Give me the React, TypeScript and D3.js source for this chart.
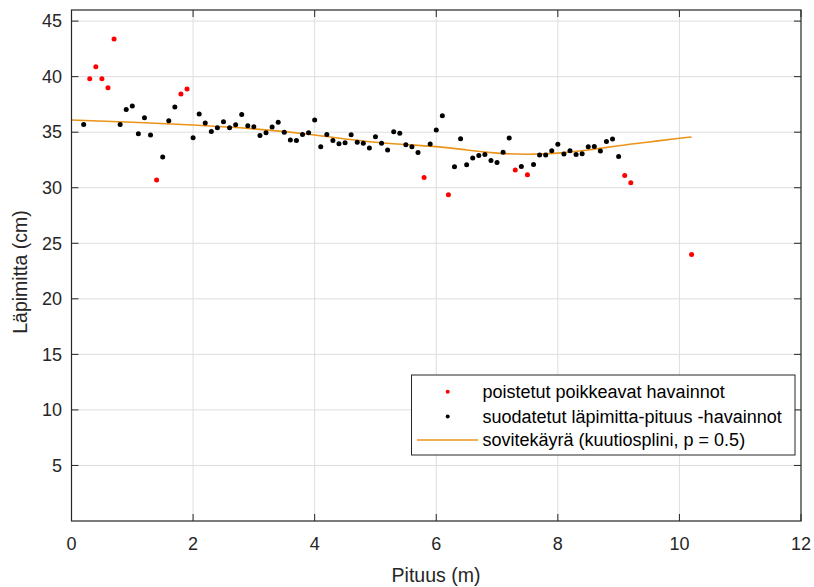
import React from 'react';
import * as d3 from 'd3';

// suodatetut havainnot (m, cm)
const keptX = [0.2, 0.8, 0.9, 1.0, 1.1, 1.2, 1.3, 1.5, 1.6, 1.7, 2.0, 2.1, 2.2, 2.3, 2.4, 2.5, 2.6, 2.7, 2.8, 2.9,
  3.0, 3.1, 3.2, 3.3, 3.4, 3.5, 3.6, 3.7, 3.8, 3.9, 4.0, 4.1, 4.2, 4.3, 4.4, 4.5, 4.6, 4.7, 4.8, 4.9,
  5.0, 5.1, 5.2, 5.3, 5.4, 5.5, 5.6, 5.7, 5.9, 6.0, 6.1, 6.3, 6.4, 6.5, 6.6, 6.7, 6.8, 6.9,
  7.0, 7.1, 7.2, 7.4, 7.6, 7.7, 7.8, 7.9, 8.0, 8.1, 8.2, 8.3, 8.4, 8.5, 8.6, 8.7, 8.8, 8.9, 9.0];
const keptY = [35.7, 35.7, 37.05, 37.35, 34.86, 36.3, 34.74, 32.76, 36.03, 37.26, 34.5, 36.63, 35.83, 35.07, 35.4, 35.94, 35.4, 35.68, 36.6, 35.58,
  35.5, 34.7, 34.95, 35.46, 35.9, 35.0, 34.3, 34.26, 34.8, 34.95, 36.1, 33.7, 34.8, 34.26, 33.97, 34.05, 34.77, 34.1, 34.0, 33.57,
  34.6, 34.0, 33.4, 35.04, 34.9, 33.87, 33.7, 33.18, 33.93, 35.19, 36.48, 31.88, 34.42, 32.08, 32.67, 32.9, 33.0, 32.46,
  32.28, 33.2, 34.47, 31.92, 32.1, 32.94, 32.94, 33.33, 33.92, 33.03, 33.33, 33.0, 33.06, 33.7, 33.72, 33.3, 34.17, 34.38, 32.82];

// poistetut poikkeavat havainnot
const outX = [0.3, 0.4, 0.5, 0.6, 0.7, 1.4, 1.8, 1.9, 5.8, 6.2, 7.3, 7.5, 9.1, 9.2, 10.2];
const outY = [39.8, 40.9, 39.8, 39.0, 43.4, 30.7, 38.43, 38.88, 30.93, 29.37, 31.59, 31.17, 31.1, 30.45, 24.0];

// sovitekäyrä
const fitX = [0, 1, 2, 3, 4, 5, 6, 6.5, 7, 7.5, 8, 8.5, 9, 9.5, 10, 10.2];
const fitY = [36.1, 35.9, 35.65, 35.3, 34.75, 34.1, 33.7, 33.4, 33.12, 33.02, 33.12, 33.4, 33.78, 34.12, 34.45, 34.57];

const xTicks = [0, 2, 4, 6, 8, 10, 12];
const yTicks = [5, 10, 15, 20, 25, 30, 35, 40, 45];
const legendLabels = [
  'poistetut poikkeavat havainnot',
  'suodatetut läpimitta-pituus -havainnot',
  'sovitekäyrä (kuutiosplini, p = 0.5)',
];

const W = 814;
const H = 587;
const left = 71.5, right = 801, top = 10, bottom = 521;
const font = '"Liberation Sans", Arial, sans-serif';
const fitColor = '#eb9419';
const axisColor = '#262626';

export default function App() {
  const x = d3.scaleLinear().domain([0, 12]).range([left, right]);
  const y = d3.scaleLinear().domain([0, 46]).range([bottom, top]);
  const line = d3.line<number>()
    .x((d, i) => x(fitX[i]))
    .y((d) => y(d))
    .curve(d3.curveNatural);

  const legendRows = [391.7, 416.5, 440];

  return (
    <svg width={W} height={H} style={{ position: 'absolute', left: 0, top: 0, background: '#fff' }}
      fontFamily={font}>
      <rect x={0} y={0} width={W} height={H} fill="#fff" />
      {/* grid */}
      {xTicks.slice(1, -1).map((t) => (
        <line key={'gx' + t} x1={x(t)} x2={x(t)} y1={top} y2={bottom} stroke="#dedede" strokeWidth={1} />
      ))}
      {yTicks.map((t) => (
        <line key={'gy' + t} x1={left} x2={right} y1={y(t)} y2={y(t)} stroke="#dedede" strokeWidth={1} />
      ))}

      {/* fit */}
      <path d={line(fitY) || ''} fill="none" stroke={fitColor} strokeWidth={1.6} />

      {/* points */}
      {keptX.map((v, i) => (
        <circle key={'k' + i} cx={x(v)} cy={y(keptY[i])} r={2.5} fill="#000" />
      ))}
      {outX.map((v, i) => (
        <circle key={'o' + i} cx={x(v)} cy={y(outY[i])} r={2.5} fill="#ff0000" />
      ))}

      {/* box + ticks */}
      <rect x={left} y={top} width={right - left} height={bottom - top} fill="none" stroke={axisColor} strokeWidth={1.2} />
      {xTicks.map((t) => (
        <g key={'tx' + t}>
          <line x1={x(t)} x2={x(t)} y1={bottom} y2={bottom - 7} stroke={axisColor} />
          <line x1={x(t)} x2={x(t)} y1={top} y2={top + 7} stroke={axisColor} />
          <text x={x(t)} y={549.5} textAnchor="middle" fontSize={18} fill={axisColor}>{t}</text>
        </g>
      ))}
      {yTicks.map((t) => (
        <g key={'ty' + t}>
          <line x1={left} x2={left + 7} y1={y(t)} y2={y(t)} stroke={axisColor} />
          <line x1={right} x2={right - 7} y1={y(t)} y2={y(t)} stroke={axisColor} />
          <text x={62} y={y(t)} dy="0.35em" textAnchor="end" fontSize={18} fill={axisColor}>{t}</text>
        </g>
      ))}

      {/* axis titles */}
      <text x={436} y={582} textAnchor="middle" fontSize={19.5} fill={axisColor}>Pituus (m)</text>
      <text transform="translate(27, 272) rotate(-90)" textAnchor="middle" fontSize={19.5}
        fill={axisColor}>Läpimitta (cm)</text>

      {/* legend */}
      <g>
        <rect x={411.5} y={375} width={383.5} height={80} fill="#fff" stroke={axisColor} strokeWidth={1} />
        <circle cx={447.7} cy={legendRows[0]} r={2} fill="#ff0000" />
        <circle cx={447.7} cy={legendRows[1]} r={2} fill="#000" />
        <line x1={417} x2={478} y1={legendRows[2]} y2={legendRows[2]} stroke={fitColor} strokeWidth={1.6} />
        {legendLabels.map((l, i) => (
          <text key={l} x={482.5} y={legendRows[i]} dy="0.35em" fontSize={18} fill="#000">{l}</text>
        ))}
      </g>
    </svg>
  );
}
